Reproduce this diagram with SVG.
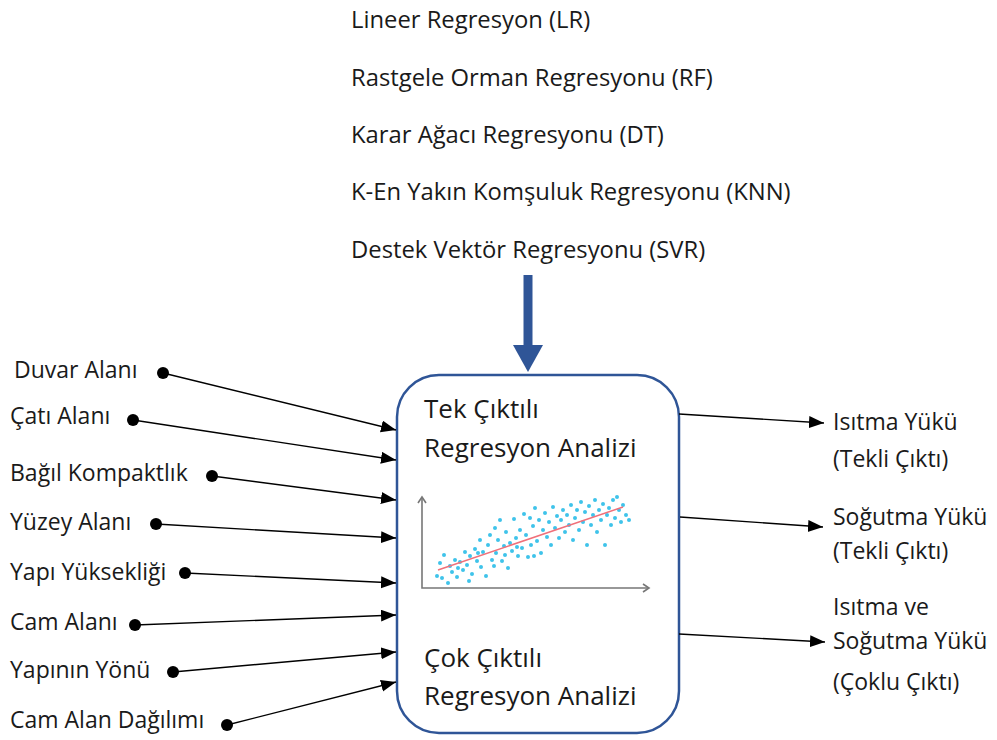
<svg xmlns="http://www.w3.org/2000/svg" width="997" height="740" viewBox="0 0 997 740">
<style>
text{font-family:"Open Sans","Liberation Sans",sans-serif;fill:#1a1a1a}
.t{font-size:23px}
.m{font-size:23.8px}
.b{font-size:26px}
.c{stroke:#000;stroke-width:1.4;fill:none;marker-end:url(#ah)}
.d{fill:#000}
.s{fill:#3fc3ea}
</style>
<defs>
<marker id="ah" markerUnits="userSpaceOnUse" markerWidth="16" markerHeight="14" refX="15" refY="6" orient="auto">
<path d="M0,0 L15,6 L0,12 Z" fill="#000"/>
</marker>
</defs>
<rect width="997" height="740" fill="#fff"/>
<g id="models">
<text class="m" x="351" y="28">Lineer Regresyon (LR)</text>
<text class="m" x="351" y="86">Rastgele Orman Regresyonu (RF)</text>
<text class="m" x="351" y="143">Karar Ağacı Regresyonu (DT)</text>
<text class="m" x="351" y="200">K-En Yakın Komşuluk Regresyonu (KNN)</text>
<text class="m" x="351" y="258">Destek Vektör Regresyonu (SVR)</text>
</g>
<g id="inputs">
<text class="t" x="14" y="378">Duvar Alanı</text>
<text class="t" x="10" y="424">Çatı Alanı</text>
<text class="t" x="10" y="481">Bağıl Kompaktlık</text>
<text class="t" x="10" y="530">Yüzey Alanı</text>
<text class="t" x="10" y="580">Yapı Yüksekliği</text>
<text class="t" x="10" y="630">Cam Alanı</text>
<text class="t" x="10" y="678">Yapının Yönü</text>
<text class="t" x="10" y="728">Cam Alan Dağılımı</text>
<circle class="d" cx="163" cy="373" r="6"/>
<circle class="d" cx="133" cy="420" r="6"/>
<circle class="d" cx="212" cy="476" r="6"/>
<circle class="d" cx="156" cy="524" r="6"/>
<circle class="d" cx="185" cy="573" r="6"/>
<circle class="d" cx="135" cy="625" r="6"/>
<circle class="d" cx="173" cy="672" r="6"/>
<circle class="d" cx="227" cy="725" r="6"/>
</g>
<g id="process">
<rect x="397" y="375" width="282" height="358" rx="42" ry="42" fill="#fff" stroke="#2f5597" stroke-width="2.5"/>
<text class="b" x="424" y="418">Tek Çıktılı</text>
<text class="b" x="424" y="457">Regresyon Analizi</text>
<text class="b" x="424" y="667">Çok Çıktılı</text>
<text class="b" x="424" y="705">Regresyon Analizi</text>
<g id="chart">
<path d="M422,498 V588 H648" fill="none" stroke="#777" stroke-width="1.6"/>
<path d="M418,503 L422,497 L426,503 M643,584 L649,588 L643,592" fill="none" stroke="#777" stroke-width="1.6"/>
<g class="s">
<circle cx="437" cy="576" r="2"/><circle cx="440" cy="563" r="2"/><circle cx="444" cy="555" r="2"/><circle cx="448" cy="583" r="2"/><circle cx="450" cy="566" r="2"/><circle cx="452" cy="572" r="2"/><circle cx="455" cy="560" r="2"/><circle cx="457" cy="577" r="2"/><circle cx="460" cy="562" r="2"/><circle cx="463" cy="570" r="2"/><circle cx="465" cy="552" r="2"/><circle cx="467" cy="565" r="2"/><circle cx="470" cy="556" r="2"/><circle cx="472" cy="574" r="2"/><circle cx="475" cy="549" r="2"/><circle cx="477" cy="561" r="2"/><circle cx="480" cy="540" r="2"/><circle cx="481" cy="567" r="2"/><circle cx="483" cy="552" r="2"/><circle cx="486" cy="576" r="2"/><circle cx="488" cy="545" r="2"/><circle cx="490" cy="535" r="2"/><circle cx="492" cy="560" r="2"/><circle cx="495" cy="528" r="2"/><circle cx="496" cy="553" r="2"/><circle cx="498" cy="540" r="2"/><circle cx="500" cy="520" r="2"/><circle cx="502" cy="561" r="2"/><circle cx="504" cy="546" r="2"/><circle cx="506" cy="532" r="2"/><circle cx="508" cy="568" r="2"/><circle cx="510" cy="543" r="2"/><circle cx="512" cy="551" r="2"/><circle cx="514" cy="519" r="2"/><circle cx="516" cy="538" r="2"/><circle cx="518" cy="556" r="2"/><circle cx="520" cy="530" r="2"/><circle cx="522" cy="548" r="2"/><circle cx="524" cy="514" r="2"/><circle cx="526" cy="535" r="2"/><circle cx="528" cy="557" r="2"/><circle cx="530" cy="518" r="2"/><circle cx="531" cy="545" r="2"/><circle cx="533" cy="526" r="2"/><circle cx="535" cy="508" r="2"/><circle cx="537" cy="541" r="2"/><circle cx="539" cy="520" r="2"/><circle cx="541" cy="553" r="2"/><circle cx="543" cy="530" r="2"/><circle cx="545" cy="513" r="2"/><circle cx="547" cy="537" r="2"/><circle cx="549" cy="522" r="2"/><circle cx="551" cy="545" r="2"/><circle cx="553" cy="507" r="2"/><circle cx="555" cy="528" r="2"/><circle cx="557" cy="516" r="2"/><circle cx="559" cy="538" r="2"/><circle cx="561" cy="520" r="2"/><circle cx="563" cy="510" r="2"/><circle cx="565" cy="532" r="2"/><circle cx="567" cy="515" r="2"/><circle cx="569" cy="525" r="2"/><circle cx="571" cy="505" r="2"/><circle cx="573" cy="540" r="2"/><circle cx="575" cy="518" r="2"/><circle cx="577" cy="510" r="2"/><circle cx="579" cy="530" r="2"/><circle cx="581" cy="502" r="2"/><circle cx="583" cy="522" r="2"/><circle cx="585" cy="512" r="2"/><circle cx="587" cy="545" r="2"/><circle cx="589" cy="506" r="2"/><circle cx="591" cy="525" r="2"/><circle cx="593" cy="515" r="2"/><circle cx="595" cy="500" r="2"/><circle cx="597" cy="532" r="2"/><circle cx="599" cy="510" r="2"/><circle cx="601" cy="520" r="2"/><circle cx="603" cy="504" r="2"/><circle cx="605" cy="545" r="2"/><circle cx="607" cy="515" r="2"/><circle cx="609" cy="508" r="2"/><circle cx="611" cy="525" r="2"/><circle cx="613" cy="500" r="2"/><circle cx="615" cy="518" r="2"/><circle cx="617" cy="497" r="2"/><circle cx="619" cy="510" r="2"/><circle cx="621" cy="522" r="2"/><circle cx="623" cy="505" r="2"/><circle cx="626" cy="515" r="2"/><circle cx="629" cy="520" r="2"/>
<circle cx="442" cy="578" r="2"/><circle cx="458" cy="568" r="2"/><circle cx="469" cy="581" r="2"/><circle cx="478" cy="553" r="2"/><circle cx="494" cy="566" r="2"/><circle cx="505" cy="555" r="2"/><circle cx="517" cy="547" r="2"/><circle cx="534" cy="556" r="2"/>
</g>
<line x1="438" y1="570" x2="623" y2="507" stroke="#f0707a" stroke-width="1.5"/>
</g>
</g>
<g id="outputs">
<text class="t" x="833" y="430">Isıtma Yükü</text>
<text class="t" x="833" y="467">(Tekli Çıktı)</text>
<text class="t" x="833" y="525">Soğutma Yükü</text>
<text class="t" x="833" y="559">(Tekli Çıktı)</text>
<text class="t" x="833" y="615">Isıtma ve</text>
<text class="t" x="833" y="649">Soğutma Yükü</text>
<text class="t" x="833" y="690">(Çoklu Çıktı)</text>
</g>
<g id="connectors">
<path d="M528,275 V346" stroke="#2f5597" stroke-width="9" fill="none"/>
<path d="M513,345 L543,345 L528,372 Z" fill="#2f5597"/>
<line class="c" x1="163" y1="373" x2="396" y2="430"/>
<line class="c" x1="133" y1="420" x2="396" y2="460"/>
<line class="c" x1="212" y1="476" x2="396" y2="500"/>
<line class="c" x1="156" y1="524" x2="396" y2="538"/>
<line class="c" x1="185" y1="573" x2="396" y2="583"/>
<line class="c" x1="135" y1="625" x2="396" y2="615"/>
<line class="c" x1="173" y1="672" x2="396" y2="652"/>
<line class="c" x1="227" y1="725" x2="396" y2="682"/>
<line class="c" x1="679" y1="414" x2="824" y2="423"/>
<line class="c" x1="680" y1="517" x2="823" y2="527"/>
<line class="c" x1="679" y1="634" x2="825" y2="642"/>
</g>
</svg>
